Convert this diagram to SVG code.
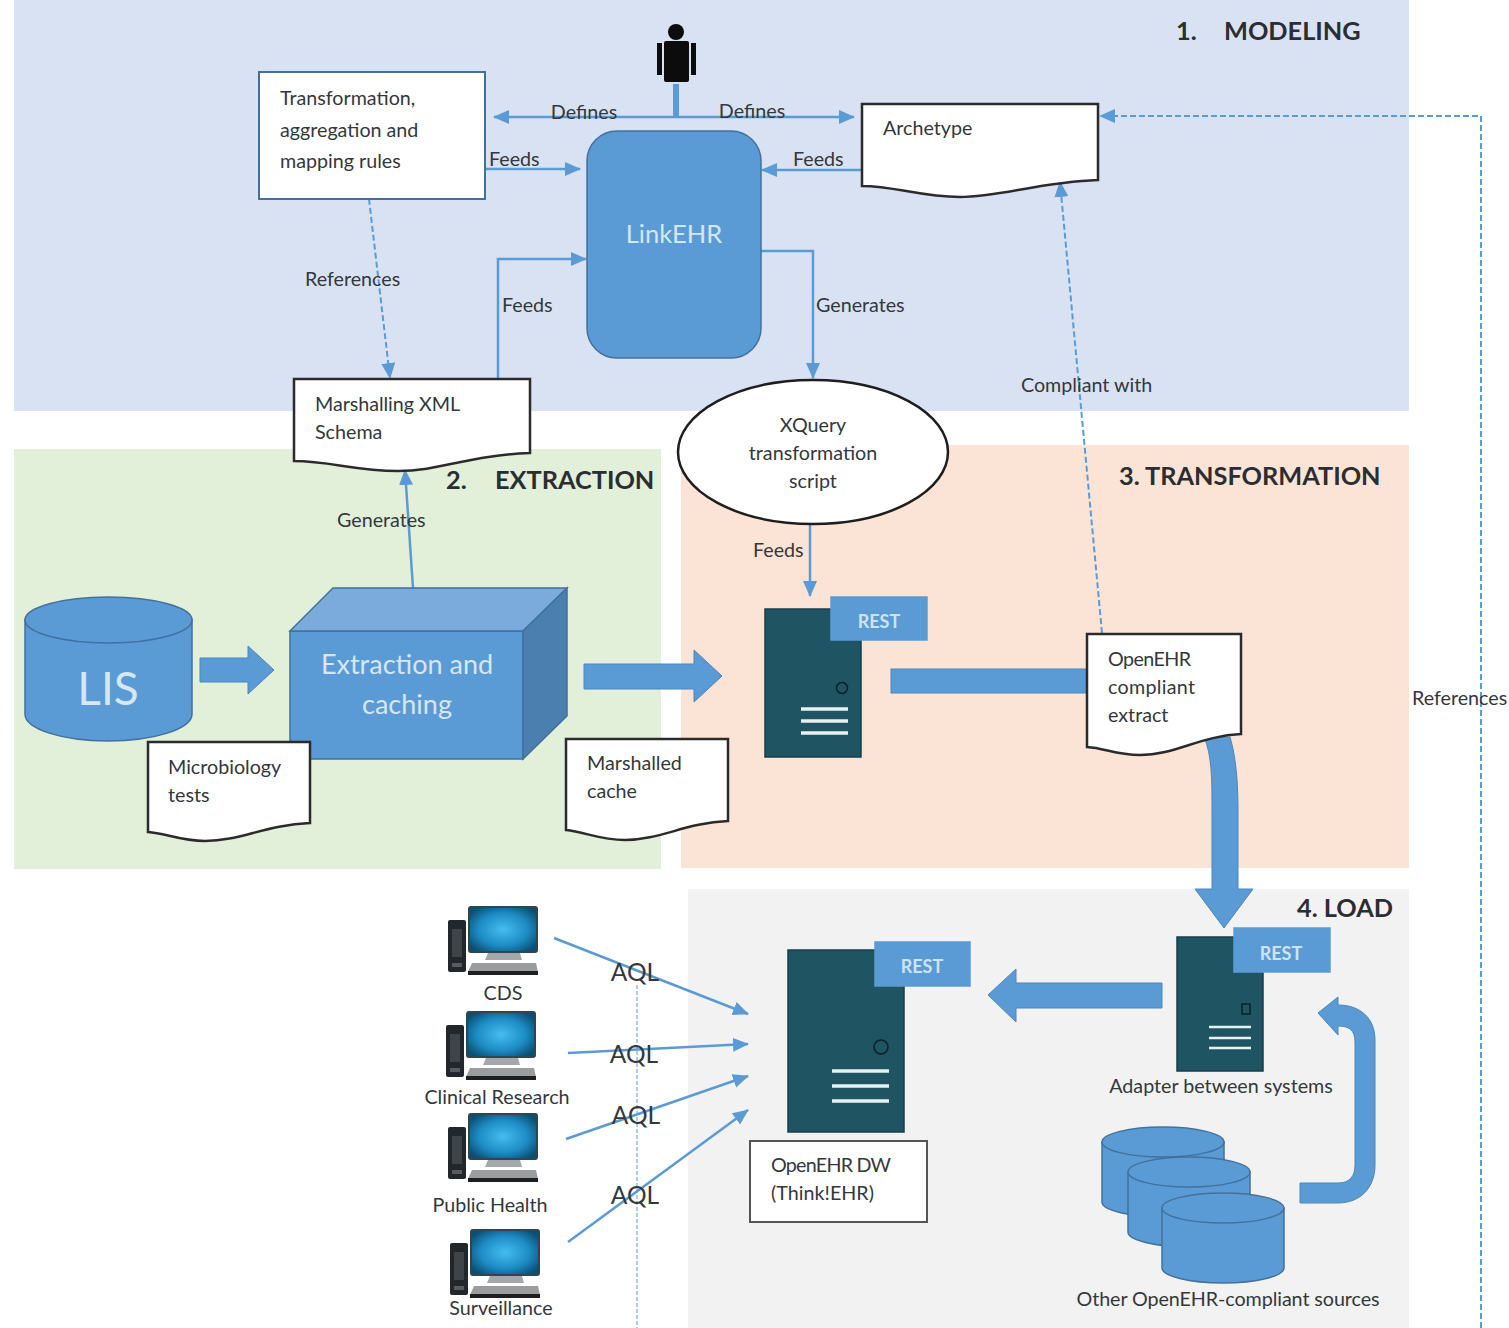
<svg xmlns="http://www.w3.org/2000/svg" width="1509" height="1328" viewBox="0 0 1509 1328">
<style>
text{font-family:Lato,"Open Sans","Liberation Sans",sans-serif;font-size:19.700px;fill:#33383c}
.m{text-anchor:middle}
.h{font-size:25.300px;font-weight:700;fill:#2a2e33}
.w{fill:#d5e6f5}
.r{font-size:18px;font-weight:700;fill:#cfe2f3}
.q{font-size:24.500px}
.doc{fill:#fff;stroke:#2b2b2b;stroke-width:2.500}
.b{fill:#5b9bd5;stroke:#41719c;stroke-width:1.500}
.fat{fill:#5b9bd5;stroke:#4a86bd;stroke-width:1}
.l{fill:none;stroke:#5b9bd5;stroke-width:2.500}
.d{fill:none;stroke:#5b9bd5;stroke-width:2;stroke-dasharray:6 3}
.srv{fill:#1f5463;stroke:#173f4b;stroke-width:1.500}
.st{fill:none;stroke:#e8f1f2;stroke-width:3.500}
</style>
<defs>
<marker id="a" markerUnits="userSpaceOnUse" markerWidth="18" markerHeight="16" refX="15" refY="7" orient="auto-start-reverse"><path d="M0 0L16 7L0 14Z" fill="#5b9bd5"/></marker>
<radialGradient id="scr" cx=".5" cy=".5" r=".6"><stop offset="0" stop-color="#45bdf0"/><stop offset=".6" stop-color="#1d8cc4"/><stop offset="1" stop-color="#0b4f74"/></radialGradient>
<g id="pc">
<rect x="21" y="0" width="68" height="45" rx="2" fill="url(#scr)" stroke="#30464f" stroke-width="2"/>
<rect x="0" y="13" width="18" height="52" rx="2" fill="#22272b"/>
<rect x="4" y="22" width="10" height="28" fill="#3d454b"/>
<rect x="4" y="56" width="10" height="4" fill="#555c62"/>
<path d="M40 46H72L74 53H37Z" fill="#a4a8ab"/>
<path d="M24 56H88L90 65H20Z" fill="#9a9c9e"/>
<rect x="20" y="64" width="70" height="4" fill="#1d1f21"/>
</g>
<g id="cyl">
<path d="M0 15V75C0 83 27 90 61 90S122 83 122 75V15Z" class="b"/>
<ellipse cx="61" cy="15" rx="61" ry="15" class="b"/>
</g>
</defs>

<g id="bands">
<rect x="14" y="0" width="1395" height="411" fill="#d9e2f3"/>
<rect x="14" y="449" width="647" height="420" fill="#e2efd9"/>
<rect x="681" y="445" width="728" height="423" fill="#fbe4d5"/>
<rect x="688" y="889" width="721" height="439" fill="#f2f2f2"/>
</g>
<g id="headings">
<text class="h" x="1176" y="40">1.</text><text class="h" x="1224" y="40">MODELING</text>
<text class="h" x="446" y="489">2.</text><text class="h" x="495" y="489">EXTRACTION</text>
<text class="h" x="1119" y="485">3. TRANSFORMATION</text>
<text class="h" x="1297" y="917">4. LOAD</text>
</g>

<g id="connectors">
<path class="l" style="stroke-width:6" d="M676 84V116"/>
<path class="l" marker-start="url(#a)" marker-end="url(#a)" d="M494 117H854"/>
<path class="l" marker-end="url(#a)" d="M485 169H580"/>
<path class="l" marker-end="url(#a)" d="M861 170H762"/>
<path class="l" marker-end="url(#a)" d="M498 379V259H586"/>
<path class="l" marker-end="url(#a)" d="M761 251H813V378"/>
<path class="d" marker-end="url(#a)" d="M369 199L390 378"/>
<path class="d" marker-end="url(#a)" d="M1102 633L1060 182"/>
<path class="l" marker-end="url(#a)" d="M413 588L405 470"/>
<path class="l" marker-end="url(#a)" d="M810 524V596"/>
<path class="d" marker-end="url(#a)" d="M1481 1328V116H1100"/>
<path d="M637 985V1328" fill="none" stroke="#5b9bd5" stroke-width="1" stroke-dasharray="4 2"/>
<path class="l" marker-end="url(#a)" d="M554 938L748 1014"/>
<path class="l" marker-end="url(#a)" d="M568 1053L748 1044"/>
<path class="l" marker-end="url(#a)" d="M566 1139L748 1076"/>
<path class="l" marker-end="url(#a)" d="M568 1242L748 1110"/>
</g>

<g id="fat-arrows">
<path class="fat" d="M200 658H248V646L274 670L248 694V682H200Z"/>
<path class="fat" d="M584 664H694V650L722 676L694 702V689H584Z"/>
<rect class="fat" x="891" y="669" width="196" height="24"/>
<path class="fat" d="M1204 737H1230C1237 760 1238 790 1238 810V889H1253L1224 928L1195 889H1212V810C1212 780 1212 755 1204 737Z"/>
<path class="fat" d="M1162 983V1008H1016V1022L988 995L1016 969V983Z"/>
<path class="fat" d="M1300 1183H1338C1350 1183 1355 1176 1355 1165V1042C1355 1030 1349 1026 1338 1026V1035L1318 1013L1338 997V1005C1360 1005 1375 1018 1375 1040V1165C1375 1188 1360 1203 1338 1203H1300Z"/>
</g>

<g id="person">
<circle cx="676" cy="32" r="8" fill="#0c0c0c"/>
<rect x="664" y="41" width="25" height="41" rx="2" fill="#0c0c0c"/>
<rect x="657" y="43" width="5" height="32" fill="#0c0c0c"/>
<rect x="691" y="43" width="5" height="32" fill="#0c0c0c"/>
</g>

<g id="rules">
<rect x="259" y="72" width="226" height="127" fill="#fff" stroke="#41719c" stroke-width="2"/>
<text x="280" y="105">Transformation,</text><text x="280" y="137">aggregation and</text><text x="280" y="168">mapping rules</text>
</g>
<g id="linkehr">
<rect class="b" x="587" y="131" width="174" height="227" rx="30"/>
<text class="m w" x="674" y="243" style="font-size:25.500px">LinkEHR</text>
</g>
<g id="archetype">
<path class="doc" d="M862 104H1098V180C1040 182 1000 197 960 197C920 197 895 186 862 186Z"/>
<text x="883" y="135">Archetype</text>
</g>
<g id="marshalling">
<path class="doc" d="M294 379H530V453C470 455 440 471 398 471C355 471 330 461 294 461Z"/>
<text x="315" y="411" textLength="145">Marshalling XML</text><text x="315" y="439">Schema</text>
</g>
<g id="xquery">
<ellipse cx="813" cy="452" rx="135" ry="72" fill="#fff" stroke="#1e1e1e" stroke-width="2.500"/>
<text class="m" x="813" y="432">XQuery</text><text class="m" x="813" y="460">transformation</text><text class="m" x="813" y="488">script</text>
</g>
<g id="lis">
<path class="b" d="M25 620V714C25 729 62 741 108 741S192 729 192 714V620Z"/>
<ellipse class="b" cx="108.500" cy="620" rx="83.500" ry="23"/>
<text class="m w" x="108" y="705" style="font-size:46px">LIS</text>
</g>
<g id="extraction">
<path class="b" d="M290 631H523V759H290Z"/>
<path d="M290 631L333 588H567L523 631Z" fill="#7babdd" stroke="#41719c" stroke-width="1.500"/>
<path d="M523 631L567 588V716L523 759Z" fill="#4a7fb0" stroke="#41719c" stroke-width="1.500"/>
<text class="m w" x="407" y="674" style="font-size:27px">Extraction and</text>
<text class="m w" x="407" y="714" style="font-size:27px">caching</text>
</g>
<g id="microbiology">
<path class="doc" d="M148 742H310V823C265 825 240 841 205 841C180 841 165 833 148 832Z"/>
<text x="168" y="774">Microbiology</text><text x="168" y="802">tests</text>
</g>
<g id="cache">
<path class="doc" d="M566 739H728V821C685 823 660 840 625 840C600 840 585 832 566 830Z"/>
<text x="587" y="770">Marshalled</text><text x="587" y="798">cache</text>
</g>
<g id="server-transform">
<rect class="srv" x="765" y="609" width="96" height="148"/>
<circle cx="842" cy="688" r="5.500" fill="none" stroke="#0e1f25" stroke-width="1.500"/>
<path class="st" d="M801 709H848M801 721H848M801 733H848"/>
<rect class="b" x="831" y="597" width="96" height="43" style="stroke:#5b9bd5"/>
<text class="m r" x="879" y="628">REST</text>
</g>
<g id="openehr-extract">
<path class="doc" d="M1087 634H1241V734C1200 736 1175 755 1140 755C1115 755 1105 748 1087 747Z"/>
<text x="1108" y="666" textLength="83">OpenEHR</text><text x="1108" y="694" textLength="87">compliant</text><text x="1108" y="722">extract</text>
</g>
<g id="server-dw">
<rect class="srv" x="788" y="950" width="116" height="182"/>
<circle cx="881" cy="1047" r="7" fill="none" stroke="#0e1f25" stroke-width="1.500"/>
<path class="st" d="M832 1071H889M832 1086H889M832 1101H889"/>
<rect class="b" x="875" y="942" width="95" height="44" style="stroke:#5b9bd5"/>
<text class="m r" x="922" y="973">REST</text>
</g>
<g id="dw-label">
<rect x="750" y="1141" width="177" height="81" fill="#fff" stroke="#555" stroke-width="2"/>
<text x="771" y="1172" textLength="120">OpenEHR DW</text><text x="771" y="1200" textLength="103">(Think!EHR)</text>
</g>
<g id="server-adapter">
<rect class="srv" x="1177" y="937" width="86" height="134"/>
<rect x="1242" y="1004" width="8" height="10" fill="none" stroke="#0e1f25" stroke-width="1.500"/>
<path class="st" d="M1209 1027H1251M1209 1038H1251M1209 1048H1251" style="stroke-width:2.500"/>
<rect class="b" x="1234" y="928" width="96" height="44" style="stroke:#5b9bd5"/>
<text class="m r" x="1281" y="960">REST</text>
<text class="m" x="1221" y="1093">Adapter between systems</text>
</g>
<g id="other-sources">
<use href="#cyl" x="1102" y="1127"/>
<use href="#cyl" x="1128" y="1157"/>
<use href="#cyl" x="1162" y="1193"/>
<text class="m" x="1228" y="1306" textLength="303">Other OpenEHR-compliant sources</text>
</g>
<g id="clients">
<use href="#pc" x="448" y="907"/><text class="m" x="503" y="1000">CDS</text>
<use href="#pc" x="446" y="1012"/><text class="m" x="497" y="1104">Clinical Research</text>
<use href="#pc" x="448" y="1114"/><text class="m" x="490" y="1212">Public Health</text>
<use href="#pc" x="450" y="1230"/><text class="m" x="501" y="1315">Surveillance</text>
</g>
<g id="connector-labels">
<text class="m" x="584" y="119">Defines</text>
<text class="m" x="752" y="118">Defines</text>
<text x="489" y="166">Feeds</text>
<text x="793" y="166">Feeds</text>
<text x="502" y="312">Feeds</text>
<text x="816" y="312">Generates</text>
<text x="305" y="286">References</text>
<text x="1021" y="392">Compliant with</text>
<text x="337" y="527">Generates</text>
<text x="753" y="557">Feeds</text>
<text x="1412" y="705">References</text>
<text class="m q" x="635" y="981">AQL</text>
<text class="m q" x="634" y="1063">AQL</text>
<text class="m q" x="636" y="1124">AQL</text>
<text class="m q" x="635" y="1204">AQL</text>
</g>
</svg>
